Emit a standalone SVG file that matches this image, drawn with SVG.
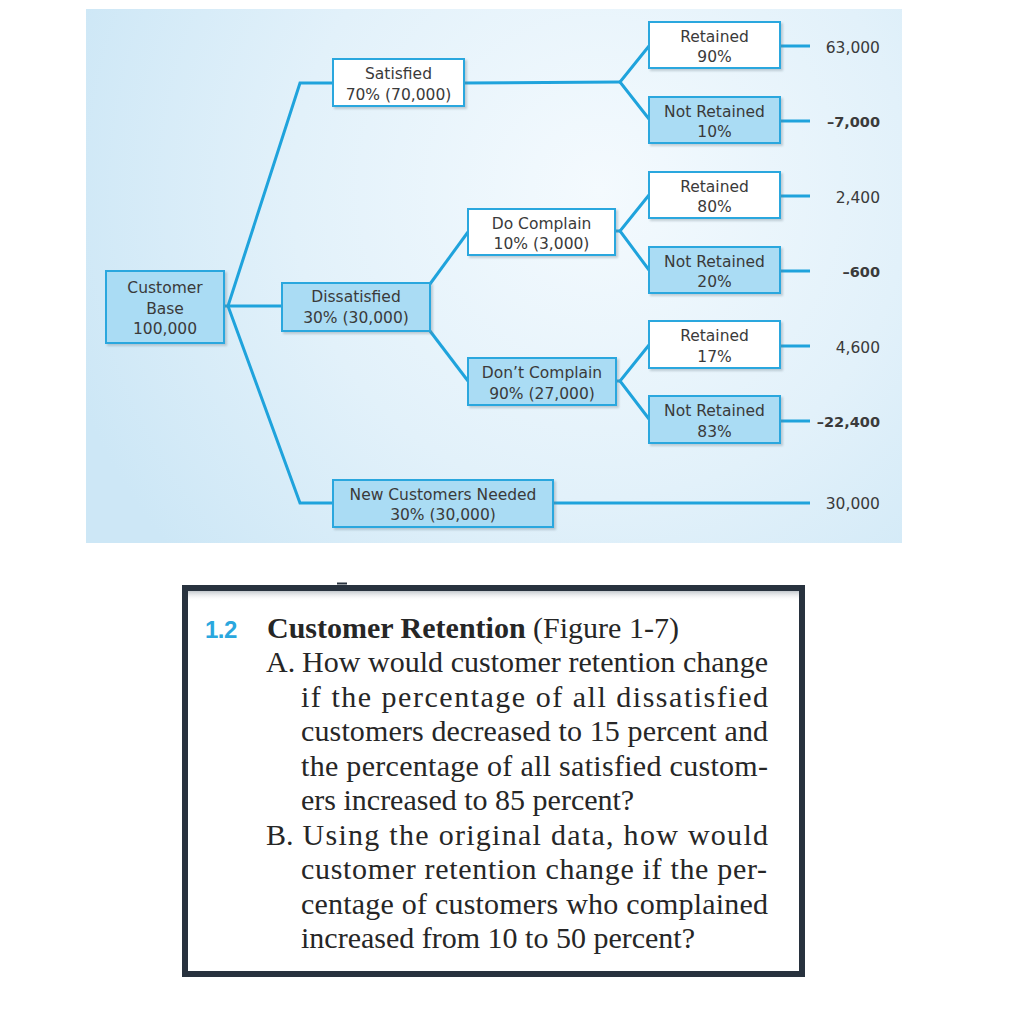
<svg xmlns="http://www.w3.org/2000/svg" width="1016" height="1024" viewBox="0 0 1016 1024">
  <defs>
    <radialGradient id="bg" cx="600" cy="190" r="560" gradientUnits="userSpaceOnUse">
      <stop offset="0" stop-color="#f4fafe"/>
      <stop offset="0.55" stop-color="#e2f1fa"/>
      <stop offset="1" stop-color="#cde7f6"/>
    </radialGradient>
    <linearGradient id="topShade" x1="0" y1="0" x2="0" y2="1">
      <stop offset="0" stop-color="#9aa3ab" stop-opacity="0.6"/>
      <stop offset="1" stop-color="#ffffff" stop-opacity="0"/>
    </linearGradient>
    <filter id="shadow" x="-10%" y="-10%" width="130%" height="140%">
      <feDropShadow dx="2" dy="2" stdDeviation="1.2" flood-color="#6b7f8c" flood-opacity="0.35"/>
    </filter>
    <style>
      .box { stroke: #2aa7de; stroke-width: 2; filter: url(#shadow); }
      .white { fill: #ffffff; }
      .blue { fill: #aadcf4; }
      .lbl { font-family: "DejaVu Sans", "Open Sans", sans-serif; font-size: 15.5px; fill: #3a3a3a; text-anchor: middle; }
      .val { font-family: "DejaVu Sans", "Open Sans", sans-serif; font-size: 15.5px; fill: #3a3a3a; text-anchor: end; }
      .neg { font-weight: bold; font-size: 14.5px; }
      .conn { fill: none; stroke: #1fa3dc; stroke-width: 3; stroke-linejoin: miter; }
      .serif { font-family: "Liberation Serif", "Times New Roman", serif; font-size: 30px; fill: #262626; }
    </style>
  </defs>

  <rect x="0" y="0" width="1016" height="1024" fill="#ffffff"/>
  <rect id="panel" x="86" y="9" width="816" height="534" fill="url(#bg)"/>

  <g id="connectors">
    <polyline class="conn" points="224,306 228,306 300,83 333,83"/>
    <polyline class="conn" points="228,306 282,306"/>
    <polyline class="conn" points="228,306 300,503 333,503"/>
    <polyline class="conn" points="464,83 620,82"/>
    <polyline class="conn" points="649,46 620,82 649,119"/>
    <line class="conn" x1="430" y1="284" x2="468" y2="232"/>
    <line class="conn" x1="430" y1="331" x2="468" y2="381"/>
    <polyline class="conn" points="615,231 620,231"/>
    <polyline class="conn" points="649,195 620,231 649,270"/>
    <polyline class="conn" points="616,381 620,381"/>
    <polyline class="conn" points="649,345 620,381 649,419"/>
    <line class="conn" x1="780" y1="46" x2="810" y2="46"/>
    <line class="conn" x1="780" y1="121" x2="810" y2="121"/>
    <line class="conn" x1="780" y1="196" x2="810" y2="196"/>
    <line class="conn" x1="780" y1="271" x2="810" y2="271"/>
    <line class="conn" x1="780" y1="346" x2="810" y2="346"/>
    <line class="conn" x1="780" y1="421" x2="810" y2="421"/>
    <line class="conn" x1="553" y1="503" x2="810" y2="503"/>
  </g>

  <g id="customer-base">
    <rect class="box blue" x="106" y="271" width="118" height="72"/>
    <text class="lbl" x="165" y="293">Customer</text>
    <text class="lbl" x="165" y="313.5">Base</text>
    <text class="lbl" x="165" y="334">100,000</text>
  </g>

  <g id="satisfied">
    <rect class="box white" x="333" y="59" width="131" height="47"/>
    <text class="lbl" x="398.5" y="79">Satisfied</text>
    <text class="lbl" x="398.5" y="99.5">70% (70,000)</text>
  </g>

  <g id="dissatisfied">
    <rect class="box blue" x="282" y="283" width="148" height="48"/>
    <text class="lbl" x="356" y="302">Dissatisfied</text>
    <text class="lbl" x="356" y="322.5">30% (30,000)</text>
  </g>

  <g id="new-customers">
    <rect class="box blue" x="333" y="480" width="220" height="47"/>
    <text class="lbl" x="443" y="499.5">New Customers Needed</text>
    <text class="lbl" x="443" y="520">30% (30,000)</text>
  </g>

  <g id="do-complain">
    <rect class="box white" x="468" y="209" width="147" height="46"/>
    <text class="lbl" x="541.5" y="228.5">Do Complain</text>
    <text class="lbl" x="541.5" y="249">10% (3,000)</text>
  </g>

  <g id="dont-complain">
    <rect class="box blue" x="468" y="358" width="148" height="47"/>
    <text class="lbl" x="542" y="378">Don’t Complain</text>
    <text class="lbl" x="542" y="398.5">90% (27,000)</text>
  </g>

  <g id="retained-90">
    <rect class="box white" x="649" y="22" width="131" height="46"/>
    <text class="lbl" x="714.5" y="41.5">Retained</text>
    <text class="lbl" x="714.5" y="62">90%</text>
  </g>
  <g id="not-retained-10">
    <rect class="box blue" x="649" y="97" width="131" height="46"/>
    <text class="lbl" x="714.5" y="116.5">Not Retained</text>
    <text class="lbl" x="714.5" y="137">10%</text>
  </g>
  <g id="retained-80">
    <rect class="box white" x="649" y="172" width="131" height="46"/>
    <text class="lbl" x="714.5" y="191.5">Retained</text>
    <text class="lbl" x="714.5" y="212">80%</text>
  </g>
  <g id="not-retained-20">
    <rect class="box blue" x="649" y="247" width="131" height="46"/>
    <text class="lbl" x="714.5" y="266.5">Not Retained</text>
    <text class="lbl" x="714.5" y="287">20%</text>
  </g>
  <g id="retained-17">
    <rect class="box white" x="649" y="321" width="131" height="47"/>
    <text class="lbl" x="714.5" y="341">Retained</text>
    <text class="lbl" x="714.5" y="361.5">17%</text>
  </g>
  <g id="not-retained-83">
    <rect class="box blue" x="649" y="396" width="131" height="47"/>
    <text class="lbl" x="714.5" y="416">Not Retained</text>
    <text class="lbl" x="714.5" y="436.5">83%</text>
  </g>

  <g id="values">
    <text class="val" x="880" y="52.5">63,000</text>
    <text class="val neg" x="880" y="127">–7,000</text>
    <text class="val" x="880" y="202.5">2,400</text>
    <text class="val neg" x="880" y="277">–600</text>
    <text class="val" x="880" y="352.5">4,600</text>
    <text class="val neg" x="880" y="427">–22,400</text>
    <text class="val" x="880" y="509">30,000</text>
  </g>

  <g id="question-box">
    <rect x="185" y="588" width="617" height="386" fill="#ffffff"/>
    <rect x="188" y="591" width="611" height="10" fill="url(#topShade)"/>
    <rect x="185" y="588" width="617" height="386" fill="none" stroke="#28323e" stroke-width="6"/>
    <line x1="337" y1="583.5" x2="347" y2="583.5" stroke="#28323e" stroke-width="2"/>
    <text x="205" y="637.5" font-family="'Liberation Sans', Arial, sans-serif" font-weight="bold" font-size="24" fill="#2aa7de" letter-spacing="-0.5">1.2</text>
    <text class="serif" x="267" y="637.5"><tspan font-weight="bold">Customer Retention</tspan> (Figure 1-7)</text>
    <text class="serif" x="266" y="672">A.</text>
    <text class="serif" x="302" y="672" textLength="466" lengthAdjust="spacing">How would customer retention change</text>
    <text class="serif" x="301" y="706.5" textLength="467" lengthAdjust="spacing">if the percentage of all dissatisfied</text>
    <text class="serif" x="301" y="741" textLength="467" lengthAdjust="spacing">customers decreased to 15 percent and</text>
    <text class="serif" x="301" y="775.5" textLength="467" lengthAdjust="spacing">the percentage of all satisfied custom-</text>
    <text class="serif" x="301" y="810">ers increased to 85 percent?</text>
    <text class="serif" x="266" y="844.5">B.</text>
    <text class="serif" x="302.5" y="844.5" textLength="465.5" lengthAdjust="spacing">Using the original data, how would</text>
    <text class="serif" x="301" y="879" textLength="466" lengthAdjust="spacing">customer retention change if the per-</text>
    <text class="serif" x="301" y="913.5" textLength="467" lengthAdjust="spacing">centage of customers who complained</text>
    <text class="serif" x="301" y="948">increased from 10 to 50 percent?</text>
  </g>
</svg>
